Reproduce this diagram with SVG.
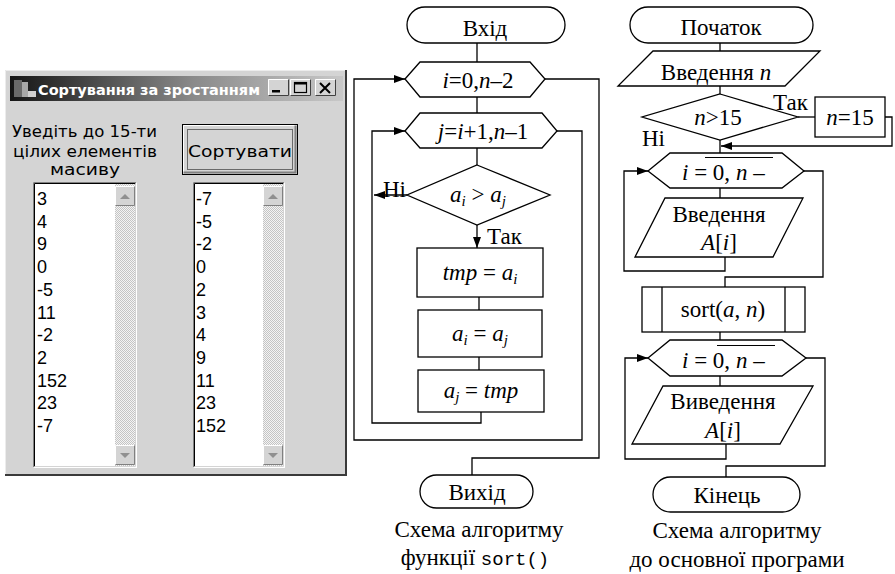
<svg xmlns="http://www.w3.org/2000/svg" xmlns:xlink="http://www.w3.org/1999/xlink" width="895" height="574" viewBox="0 0 895 574">
<defs>
<style>
.ln{fill:none;stroke:#000;stroke-width:1.3}
.sh{fill:#fff;stroke:#000;stroke-width:1.3}
.t{font-family:"Liberation Serif",serif;font-size:23px;fill:#000}
.tm{text-anchor:middle}
.i{font-style:italic}
.sub{font-size:15px;font-style:italic}
.mono{font-family:"Liberation Mono",monospace;font-size:19px}
.ui{font-family:"DejaVu Sans",sans-serif;font-size:16px;fill:#000}
.it{font-family:"Liberation Sans",sans-serif;font-size:18px;fill:#000}
.ttl{font-family:"DejaVu Sans",sans-serif;font-size:14.5px;font-weight:bold;fill:#fff}
</style>
<marker id="arr" viewBox="0 0 11 8" refX="11" refY="4" markerWidth="11" markerHeight="8" markerUnits="userSpaceOnUse" orient="auto"><path d="M0,0 L11,4 L0,8 z" fill="#000"/></marker>
<linearGradient id="tb" x1="0" y1="0" x2="1" y2="0"><stop offset="0" stop-color="#151515"/><stop offset="0.55" stop-color="#8a8a8a"/><stop offset="1" stop-color="#c8c8c8"/></linearGradient>
<pattern id="dith" width="2" height="2" patternUnits="userSpaceOnUse"><rect width="2" height="2" fill="#f4f4f4"/><rect width="1" height="1" fill="#c4c4c4"/><rect x="1" y="1" width="1" height="1" fill="#c4c4c4"/></pattern>
<g id="tbtn"><rect width="21" height="17" fill="#d4d4d4"/><path d="M0.5,16.5 V0.5 H20.5" stroke="#fff" fill="none"/><path d="M0.5,16.5 H20.5 V0.5" stroke="#404040" fill="none"/></g>
<g id="sbtn"><rect width="20" height="20" fill="#d4d4d4"/><path d="M0.5,19.5 V0.5 H19.5" stroke="#fff" fill="none"/><path d="M0.5,19.5 H19.5 V0.5" stroke="#808080" fill="none"/></g>
</defs>
<rect width="895" height="574" fill="#fff"/>

<g id="window">
<rect x="5" y="70" width="342" height="406" fill="#d4d4d4"/>
<path d="M5.5,475 V70.5 H346" stroke="#ececec" fill="none"/>
<path d="M5,475 H346 V70" stroke="#3a3a3a" stroke-width="2" fill="none"/>
<rect x="10" y="76" width="333" height="25" fill="url(#tb)"/>
<rect x="14" y="80" width="8" height="17" fill="#6a6a6a"/>
<rect x="22" y="82" width="6" height="15" fill="#a8a8a8"/>
<rect x="28" y="91" width="8" height="6" fill="#d0d0d0"/>
<text x="38" y="95" class="ttl" textLength="222" lengthAdjust="spacingAndGlyphs">Сортування за зростанням</text>
<use xlink:href="#tbtn" x="268" y="79"/>
<use xlink:href="#tbtn" x="290" y="79"/>
<use xlink:href="#tbtn" x="315" y="79"/>
<rect x="272" y="90" width="8" height="2.5" fill="#000"/>
<rect x="294.5" y="82.5" width="12" height="10" fill="none" stroke="#000" stroke-width="1.2"/>
<rect x="294" y="82" width="13" height="2.5" fill="#000"/>
<path d="M320,83 L330,93 M330,83 L320,93" stroke="#000" stroke-width="2" fill="none"/>
<text x="12" y="137" class="ui" textLength="145" lengthAdjust="spacingAndGlyphs">Уведіть до 15-ти</text>
<text x="13" y="157" class="ui" textLength="144" lengthAdjust="spacingAndGlyphs">цілих елементів</text>
<text x="50" y="175" class="ui" textLength="70" lengthAdjust="spacingAndGlyphs">масиву</text>
</g>

<g id="sort-button">
<rect x="182.5" y="124.5" width="115" height="50" fill="#d4d4d4" stroke="#000"/>
<path d="M183.5,173.5 V125.5 H296.5" stroke="#fff" fill="none"/>
<path d="M183.5,172.5 H295.5 V125.5" stroke="#808080" stroke-width="2" fill="none"/>
<rect x="187.5" y="129.5" width="105" height="40" fill="none" stroke="#000" stroke-dasharray="1,1"/>
<text x="240" y="157" class="ui" text-anchor="middle" font-size="17" textLength="104" lengthAdjust="spacingAndGlyphs">Сортувати</text>
</g>

<g id="list-input">
<rect x="33" y="182" width="104" height="286" fill="#fff"/>
<path d="M33.5,467.5 V182.5 H136.5" stroke="#808080" fill="none"/>
<path d="M34.5,466.5 V183.5 H135.5" stroke="#000" fill="none"/>
<path d="M33.5,467.5 H136.5 V182.5" stroke="#fff" fill="none"/>
<path d="M34.5,466.5 H135.5 V183.5" stroke="#d4d4d4" fill="none"/>
<rect x="115" y="184" width="20" height="282" fill="url(#dith)"/>
<use xlink:href="#sbtn" x="115" y="186"/>
<use xlink:href="#sbtn" x="115" y="445"/>
<path d="M120,199 L125,194 L130,199 z" fill="#909090"/>
<path d="M120,453 L125,458 L130,453 z" fill="#909090"/>
<text class="it" x="37" y="205">3</text>
<text class="it" x="37" y="227.7">4</text>
<text class="it" x="37" y="250.4">9</text>
<text class="it" x="37" y="273">0</text>
<text class="it" x="37" y="295.8">-5</text>
<text class="it" x="37" y="318.5">11</text>
<text class="it" x="37" y="341.2">-2</text>
<text class="it" x="37" y="364">2</text>
<text class="it" x="37" y="386.6">152</text>
<text class="it" x="37" y="409.3">23</text>
<text class="it" x="37" y="432">-7</text>
</g>

<g id="list-output">
<rect x="193" y="182" width="92" height="286" fill="#fff"/>
<path d="M193.5,467.5 V182.5 H284.5" stroke="#808080" fill="none"/>
<path d="M194.5,466.5 V183.5 H283.5" stroke="#000" fill="none"/>
<path d="M193.5,467.5 H284.5 V182.5" stroke="#fff" fill="none"/>
<path d="M194.5,466.5 H283.5 V183.5" stroke="#d4d4d4" fill="none"/>
<rect x="263" y="184" width="20" height="282" fill="url(#dith)"/>
<use xlink:href="#sbtn" x="263" y="186"/>
<use xlink:href="#sbtn" x="263" y="445"/>
<path d="M268,199 L273,194 L278,199 z" fill="#909090"/>
<path d="M268,453 L273,458 L278,453 z" fill="#909090"/>
<text class="it" x="196" y="205">-7</text>
<text class="it" x="196" y="227.7">-5</text>
<text class="it" x="196" y="250.4">-2</text>
<text class="it" x="196" y="273">0</text>
<text class="it" x="196" y="295.8">2</text>
<text class="it" x="196" y="318.5">3</text>
<text class="it" x="196" y="341.2">4</text>
<text class="it" x="196" y="364">9</text>
<text class="it" x="196" y="386.6">11</text>
<text class="it" x="196" y="409.3">23</text>
<text class="it" x="196" y="432">152</text>
</g>

<g id="connectors">
<path class="ln" d="M477,43 V62"/>
<path class="ln" d="M477,97 V113"/>
<path class="ln" d="M477,148 V165"/>
<path class="ln" d="M407,195 H374" marker-end="url(#arr)"/>
<path class="ln" d="M477,225 V248" marker-end="url(#arr)"/>
<path class="ln" d="M479,297 V310"/>
<path class="ln" d="M479,357 V370"/>
<path class="ln" d="M481,412 V423 H372 V131 H405" marker-end="url(#arr)"/>
<path class="ln" d="M557,131 H582 V440 H354 V79 H405" marker-end="url(#arr)"/>
<path class="ln" d="M545,79 H599 V458 H472 V475"/>
<path class="ln" d="M720,43 V51"/>
<path class="ln" d="M720,86 V94"/>
<path class="ln" d="M798,117 H815"/>
<path class="ln" d="M885,117 H892 V146 H721" marker-end="url(#arr)"/>
<path class="ln" d="M720,140 V153"/>
<path class="ln" d="M720,188 V198"/>
<path class="ln" d="M725,257 V271 H624 V171 H648" marker-end="url(#arr)"/>
<path class="ln" d="M804,171 H823 V277 H725 V287"/>
<path class="ln" d="M720,332 V340"/>
<path class="ln" d="M720,376 V386"/>
<path class="ln" d="M726,444 V459 H625 V358 H648" marker-end="url(#arr)"/>
<path class="ln" d="M806,358 H825 V466 H726 V477"/>
</g>

<g id="sort-entry">
<rect class="sh" x="407" y="7" width="158" height="36" rx="18"/>
<text class="t tm" x="485" y="35.5">Вхід</text>
</g>
<g id="loop-i">
<polygon class="sh" points="405,79 420,62 530,62 545,79 530,97 420,97"/>
<text class="t tm" x="478" y="88"><tspan class="i">i</tspan>=0,<tspan class="i">n</tspan>–2</text>
</g>
<g id="loop-j">
<polygon class="sh" points="405,131 420,113 542,113 557,131 542,148 420,148"/>
<text class="t tm" x="483" y="139"><tspan class="i">j</tspan>=<tspan class="i">i</tspan>+1,<tspan class="i">n</tspan>–1</text>
</g>
<g id="compare">
<polygon class="sh" points="477,165 550,195 477,225 407,195"/>
<text class="t tm" x="478" y="202"><tspan class="i">a</tspan><tspan class="sub" dy="4">i</tspan><tspan dy="-4"> &gt; </tspan><tspan class="i">a</tspan><tspan class="sub" dy="4">j</tspan></text>
<text class="t" x="383" y="197">Ні</text>
<text class="t" x="487" y="244">Так</text>
</g>
<g id="swap1">
<rect class="sh" x="417" y="248" width="126" height="49"/>
<text class="t tm" x="480" y="280"><tspan class="i">tmp</tspan> = <tspan class="i">a</tspan><tspan class="sub" dy="4">i</tspan></text>
</g>
<g id="swap2">
<rect class="sh" x="418" y="310" width="124" height="47"/>
<text class="t tm" x="480" y="341"><tspan class="i">a</tspan><tspan class="sub" dy="4">i</tspan><tspan dy="-4"> = </tspan><tspan class="i">a</tspan><tspan class="sub" dy="4">j</tspan></text>
</g>
<g id="swap3">
<rect class="sh" x="418" y="370" width="126" height="42"/>
<text class="t tm" x="481" y="398"><tspan class="i">a</tspan><tspan class="sub" dy="4">j</tspan><tspan dy="-4"> = </tspan><tspan class="i">tmp</tspan></text>
</g>
<g id="sort-exit">
<rect class="sh" x="420" y="475" width="113" height="33" rx="16.5"/>
<text class="t tm" x="477" y="500">Вихід</text>
</g>
<g id="caption-sort">
<text class="t tm" x="479" y="537">Схема алгоритму</text>
<text class="t tm" x="475" y="565">функції <tspan class="mono">sort()</tspan></text>
</g>

<g id="main-start">
<rect class="sh" x="630" y="7" width="183" height="36" rx="18"/>
<text class="t tm" x="721" y="35">Початок</text>
</g>
<g id="input-n">
<polygon class="sh" points="653,51 820,51 785,86 618,86"/>
<text class="t tm" x="716" y="80">Введення <tspan class="i">n</tspan></text>
</g>
<g id="check-n">
<polygon class="sh" points="720,94 798,117 720,140 642,117"/>
<text class="t tm" x="718" y="125"><tspan class="i">n</tspan>&gt;15</text>
<text class="t" x="773" y="110">Так</text>
<text class="t" x="642" y="146">Ні</text>
</g>
<g id="set-n">
<rect class="sh" x="815" y="97" width="70" height="40"/>
<text class="t tm" x="850" y="125"><tspan class="i">n</tspan>=15</text>
</g>
<g id="loop-input">
<polygon class="sh" points="648,171 670,153 782,153 804,171 782,188 670,188"/>
<text class="t" x="682" y="180"><tspan class="i">i</tspan> = 0, <tspan class="i">n</tspan> –</text>
<line x1="705" y1="157.5" x2="773" y2="157.5" stroke="#000" stroke-width="1.2"/>
</g>
<g id="input-a">
<polygon class="sh" points="665,198 803,198 773,257 635,257"/>
<text class="t tm" x="719" y="222">Введення</text>
<text class="t tm" x="719" y="250"><tspan class="i">A</tspan>[<tspan class="i">i</tspan>]</text>
</g>
<g id="call-sort">
<rect class="sh" x="642" y="287" width="163" height="45"/>
<path class="ln" d="M662,287 V332 M785,287 V332"/>
<text class="t tm" x="723" y="317">sort(<tspan class="i">a</tspan>, <tspan class="i">n</tspan>)</text>
</g>
<g id="loop-output">
<polygon class="sh" points="648,358 670,340 782,340 806,358 782,376 670,376"/>
<text class="t" x="682" y="368"><tspan class="i">i</tspan> = 0, <tspan class="i">n</tspan> –</text>
<line x1="717" y1="345.5" x2="775" y2="345.5" stroke="#000" stroke-width="1.2"/>
</g>
<g id="output-a">
<polygon class="sh" points="663,386 813,386 780,444 632,444"/>
<text class="t tm" x="723" y="409">Виведення</text>
<text class="t tm" x="723" y="438"><tspan class="i">A</tspan>[<tspan class="i">i</tspan>]</text>
</g>
<g id="main-end">
<rect class="sh" x="653" y="477" width="147" height="35" rx="17.5"/>
<text class="t tm" x="727" y="503">Кінець</text>
</g>
<g id="caption-main">
<text class="t tm" x="737" y="538">Схема алгоритму</text>
<text class="t tm" x="737" y="567">до основної програми</text>
</g>
</svg>
